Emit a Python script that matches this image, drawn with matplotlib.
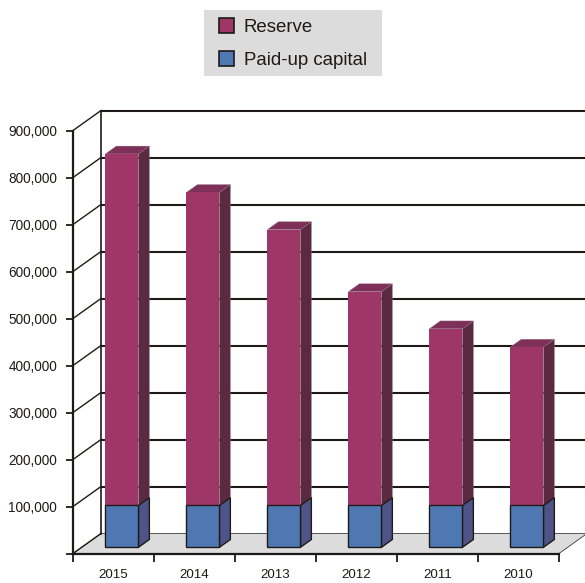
import matplotlib
matplotlib.use('Agg')
import matplotlib.pyplot as plt
from matplotlib.patches import Polygon, Patch, Rectangle

years = ['2015', '2014', '2013', '2012', '2011', '2010']
paid_up = [89000, 89000, 89000, 89000, 89000, 89000]
reserve = [748000, 666000, 587000, 455000, 376000, 337000]
y_ticks = [0, 100000, 200000, 300000, 400000, 500000, 600000, 700000, 800000, 900000]
y_labels = ['', '100,000', '200,000', '300,000', '400,000', '500,000', '600,000', '700,000', '800,000', '900,000']

plt.rcParams['font.family'] = ['Liberation Sans', 'DejaVu Sans']

W, H = 585, 583
INK = '#1e1a17'
GREY = '#dcdcdc'

fig = plt.figure(figsize=(W / 100, H / 100), dpi=100)
ax = fig.add_axes([73 / W, 1 - 553.5 / H, 486 / W, 423 / H])
ax.set_xlim(0, 6)
ax.set_ylim(0, 900000)
ax.patch.set_visible(False)

# oblique depth: how far the back plane sits from the front plane, in data units
depth_x = 28 / 81
depth_y = 20 / 423 * 900000


def project(x, y, d):
    return (x + d * depth_x, y + d * depth_y)


def face(points, color, edge='none', lw=0.0, z=3):
    ax.add_patch(Polygon([project(*p) for p in points], closed=True, facecolor=color,
                         edgecolor=edge, linewidth=lw, zorder=z, clip_on=False, joinstyle='miter'))


# floor
face([(0, 0, 0), (6, 0, 0), (6, 0, 1), (0, 0, 1)], GREY, INK, 0.5, z=1)

# back wall and left wall rules
for t in y_ticks:
    if t > 0:
        x0, y0 = project(0, t, 1)
        x1, y1 = project(6, t, 1)
        ax.plot([x0, x1], [y0, y1], color=INK, lw=1.5, zorder=2, clip_on=False, solid_capstyle='butt')
    x0, y0 = project(0, t, 0)
    x1, y1 = project(0, t, 1)
    ax.plot([x0, x1], [y0, y1], color=INK, lw=1.0, zorder=2, clip_on=False)
x0, y0 = project(0, 0, 1)
x1, y1 = project(0, 900000, 1)
ax.plot([x0, x1], [y0, y1], color=INK, lw=1.2, zorder=2, clip_on=False)

# stacked columns; the blue block only shows its front and side
bar_w = 33 / 81
d0, d1 = 0.31, 0.70
for i in range(len(years)):
    x0 = i + 0.497 - bar_w / 2
    x1 = i + 0.497 + bar_w / 2
    base = paid_up[i]
    total = base + reserve[i]
    face([(x1, base, d0), (x1, base, d1), (x1, total, d1), (x1, total, d0)], '#5c2a40', '#8d7482', 0.3, z=3)
    face([(x0, total, d0), (x0, total, d1), (x1, total, d1), (x1, total, d0)], '#7e3058', '#8d7482', 0.3, z=3)
    face([(x0, base, d0), (x1, base, d0), (x1, total, d0), (x0, total, d0)], '#9e3667', z=3)
    face([(x1, 0, d0), (x1, 0, d1), (x1, base, d1), (x1, base, d0)], '#4f5488', INK, 1.0, z=4)
    face([(x0, 0, d0), (x1, 0, d0), (x1, base, d0), (x0, base, d0)], '#4f78b3', INK, 1.0, z=4)

# axes
for s in ['top', 'right']:
    ax.spines[s].set_visible(False)
for s in ['left', 'bottom']:
    ax.spines[s].set_color(INK)
    ax.spines[s].set_linewidth(1.6)
    ax.spines[s].set_zorder(5)

ax.set_yticks(y_ticks)
ax.set_yticklabels(y_labels, fontsize=9.8, color=INK)
ax.set_xticks(range(7))
ax.set_xticklabels([])
ax.set_xticks([i + 0.5 for i in range(6)], minor=True)
ax.set_xticklabels(years, minor=True, fontsize=9.6, color=INK)
ax.tick_params(axis='y', length=5, width=1.3, color=INK, pad=6.5)
ax.tick_params(axis='x', which='major', length=5.5, width=1.3, color=INK)
ax.tick_params(axis='x', which='minor', length=0, pad=11.5)

# legend box is wider than the legend's own padding allows, so it gets its own panel
fig.add_artist(Rectangle((204 / W, 1 - 76 / H), 178 / W, 66 / H, transform=fig.transFigure,
                         facecolor=GREY, edgecolor='none', zorder=1))
handles = [Patch(facecolor='#9e3667', edgecolor=INK, linewidth=1.2, label='Reserve'),
           Patch(facecolor='#4f78b3', edgecolor=INK, linewidth=1.2, label='Paid-up capital')]
leg = fig.legend(handles=handles, loc='upper left', bbox_to_anchor=(219 / W, 1 - 18 / H),
                 fontsize=13.4, frameon=False, borderaxespad=0, borderpad=0,
                 handlelength=0.83, handleheight=0.83, handletextpad=0.5, labelspacing=0.82,
                 labelcolor=INK)
leg.set_zorder(2)

fig.savefig('out.png', dpi=100)
